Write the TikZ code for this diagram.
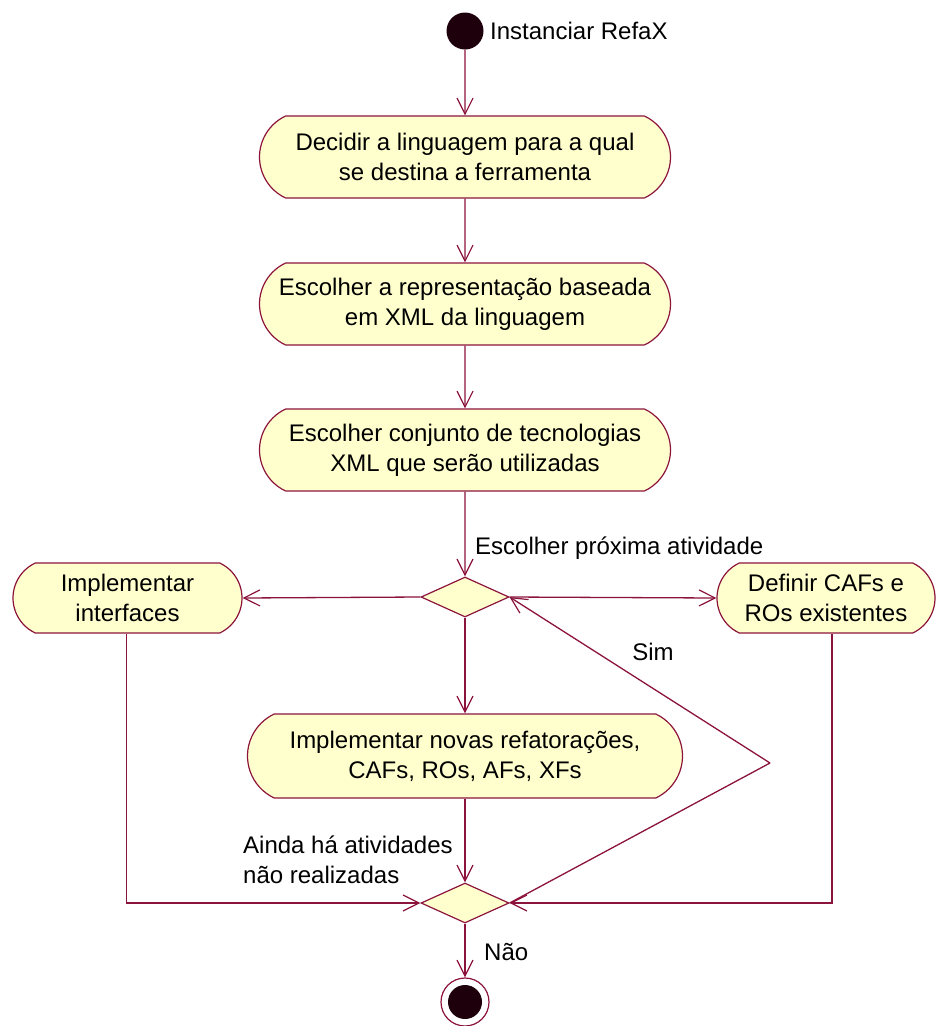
\documentclass[tikz,border=0pt]{standalone}
\usepackage{fontspec}
\setmainfont{Liberation Sans}
\usetikzlibrary{shapes.misc,shapes.geometric,arrows.meta}
\definecolor{maroonline}{RGB}{140,20,60}
\definecolor{boxfill}{RGB}{255,255,206}
\definecolor{dotfill}{RGB}{30,0,12}
\begin{document}
\begin{tikzpicture}[x=1pt,y=-1pt,
  act/.style={rounded rectangle, rounded rectangle arc length=130, draw=maroonline, fill=boxfill,
    line width=1.2pt, align=center, font=\fontsize{24}{30}\selectfont, inner sep=0pt},
  dec/.style={diamond, draw=maroonline, fill=boxfill, line width=1.2pt,
    minimum width=88pt, minimum height=40pt, inner sep=0pt},
  conn/.style={draw=maroonline, line width=1.3pt},
  arr/.style={conn, -{Straight Barb[length=16pt,width=16pt,line width=1.2pt]}},
  lbl/.style={font=\fontsize{24}{30}\selectfont, inner sep=0pt}]
\useasboundingbox (0,0) rectangle (937,1026);
\fill[white] (0,0) rectangle (937,1026);

\node[circle, fill=dotfill, minimum size=37pt, inner sep=0pt] (start) at (465,31) {};
\node[lbl, anchor=west] (lstart) at (490,31) {Instanciar RefaX};

\node[act, minimum width=411pt, minimum height=82pt] (b1) at (465,157)
  {Decidir a linguagem para a qual\\se destina a ferramenta};
\node[act, minimum width=411pt, minimum height=82pt] (b2) at (465,304)
  {Escolher a representação baseada\\em XML da linguagem};
\node[act, minimum width=411pt, minimum height=82pt] (b3) at (465,450)
  {Escolher conjunto de tecnologias\\XML que serão utilizadas};

\node[lbl, anchor=west] (lnext) at (475,548) {Escolher próxima atividade};
\node[dec] (d1) at (465,597) {};

\node[act, minimum width=229pt, minimum height=70pt] (lb) at (127.5,598)
  {Implementar\\interfaces};
\node[act, minimum width=218pt, minimum height=70pt] (rb) at (826,598)
  {Definir CAFs e\\ROs existentes};

\node[act, minimum width=435pt, minimum height=84pt] (b4) at (465,756)
  {Implementar novas refatorações,\\CAFs, ROs, AFs, XFs};

\node[dec] (d2) at (465,903) {};
\node[lbl, anchor=west, align=left] (lainda) at (243,860)
  {Ainda há atividades\\não realizadas};
\node[lbl] (lsim) at (653,652) {Sim};
\node[lbl, anchor=west] (lnao) at (484,952) {Não};

\node[circle, draw=maroonline, line width=1.2pt, minimum size=48pt, inner sep=0pt] (endo) at (465,1002) {};
\node[circle, fill=dotfill, minimum size=34pt, inner sep=0pt] (endi) at (465,1002) {};

\coordinate (vx) at (770,763);

\draw[arr] (start) -- (b1);
\draw[arr] (b1) -- (b2);
\draw[arr] (b2) -- (b3);
\draw[arr] (b3) -- (d1);
\draw[arr] (d1.west) -- (lb.east);
\draw[arr] (d1.east) -- (rb.west);
\draw[arr] (d1.south) -- (b4.north);
\draw[arr] (b4.south) -- (d2.north);
\draw[arr] ([xshift=-1pt]lb.south) |- (d2.west);
\draw[arr] ([xshift=6pt]rb.south) |- (d2.east);
\draw[conn] (d2.east) -- (vx);
\draw[arr] (vx) -- (d1.east);
\draw[arr] (d2.south) -- (endo.north);
\end{tikzpicture}
\end{document}
